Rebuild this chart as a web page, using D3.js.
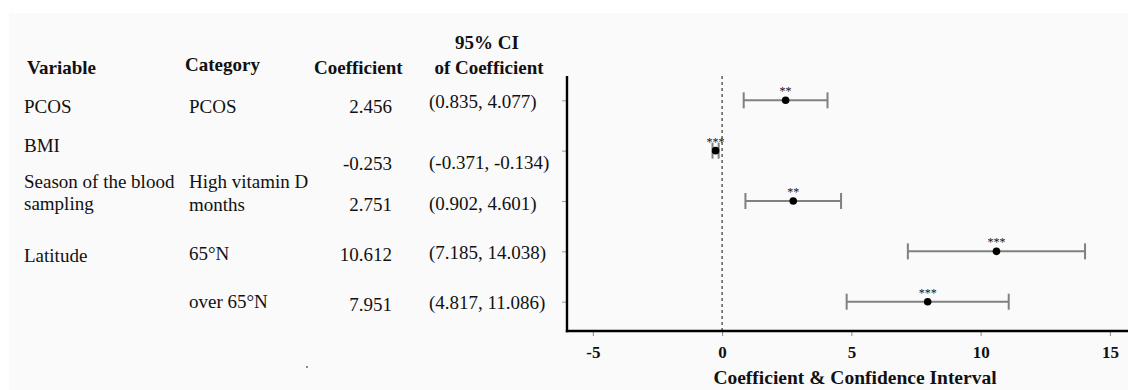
<!DOCTYPE html>
<html>
<head>
<meta charset="utf-8">
<script src="https://cdn.jsdelivr.net/npm/d3@7/dist/d3.min.js"></script>
<style>
  html, body { margin: 0; padding: 0; background: #ffffff; }
  svg { display: block; }
  text { font-family: "Liberation Serif", "Times New Roman", serif; fill: #111; }
</style>
</head>
<body>
<svg id="chart" width="1128" height="390"></svg>
<script>
// ---------------- data ----------------
const variables   = ["PCOS", "BMI", "Season of the blood\nsampling", "Latitude", ""];
const categories  = ["PCOS", "", "High vitamin D\nmonths", "65°N", "over 65°N"];
const coefficient = [2.456, -0.253, 2.751, 10.612, 7.951];
const ciLower     = [0.835, -0.371, 0.902, 7.185, 4.817];
const ciUpper     = [4.077, -0.134, 4.601, 14.038, 11.086];
const significance = ["**", "***", "**", "***", "***"];
const xTickValues = [-5, 0, 5, 10, 15];
const headers = ["Variable", "Category", "Coefficient", "95% CI\nof Coefficient"];
const xAxisTitle = "Coefficient & Confidence Interval";

// ---------------- layout ----------------
const W = 1128, H = 390;
const plot = { left: 567, right: 1128, top: 76, bottom: 331 };
const rowRange = [100.3, 301.7];
// per-row vertical offsets of table text (px, relative to row centre)
const offVar  = [[7], [-5], [-19, 3], [5], []];
const offCat  = [[7], [], [-19, 4], [3], [0]];
const offCoef = [7, 13, 4, 4, 3];
const offCI   = [2, 12, 3, 2, 1];
const colX = { variable: 24, category: 189, coefEnd: 392, ci: 429 };

const loc = d3.formatLocale({ decimal: ".", thousands: ",", grouping: [3], currency: ["", ""], minus: "-" });
const f3 = loc.format(".3f");
const f0 = loc.format("d");

const svg = d3.select("#chart");
svg.append("rect").attr("x", 9).attr("y", 13).attr("width", W - 9).attr("height", H - 13).attr("fill", "#fafafa");

const rows = d3.range(coefficient.length);
const x = d3.scaleLinear().domain([-6, 15.7]).range([plot.left, plot.right]);
const y = d3.scalePoint().domain(rows).range(rowRange);

// ---------------- table headers ----------------
const hdr = svg.append("g").attr("font-weight", "bold").attr("font-size", 19);
hdr.append("text").attr("x", 27).attr("y", 68).attr("dy", "0.32em").text(headers[0]);
hdr.append("text").attr("x", 185).attr("y", 65).attr("dy", "0.32em").text(headers[1]);
hdr.append("text").attr("x", 314).attr("y", 68).attr("dy", "0.32em").text(headers[2]);
const ciLines = headers[3].split("\n");
hdr.append("text").attr("x", 487).attr("y", 43).attr("dy", "0.32em").attr("text-anchor", "middle").text(ciLines[0]);
hdr.append("text").attr("x", 489).attr("y", 68).attr("dy", "0.32em").attr("text-anchor", "middle").text(ciLines[1]);

// ---------------- table body ----------------
const body = svg.append("g").attr("font-size", 19);
rows.forEach(i => {
  const ry = y(i);
  variables[i].split("\n").forEach((ln, k) => {
    if (!ln) return;
    body.append("text").attr("x", colX.variable).attr("y", ry + offVar[i][k]).attr("dy", "0.32em").text(ln);
  });
  categories[i].split("\n").forEach((ln, k) => {
    if (!ln) return;
    body.append("text").attr("x", colX.category).attr("y", ry + offCat[i][k]).attr("dy", "0.32em").text(ln);
  });
  body.append("text").attr("x", colX.coefEnd).attr("y", ry + offCoef[i]).attr("dy", "0.32em")
      .attr("text-anchor", "end").text(f3(coefficient[i]));
  body.append("text").attr("x", colX.ci).attr("y", ry + offCI[i]).attr("dy", "0.32em")
      .text("(" + f3(ciLower[i]) + ", " + f3(ciUpper[i]) + ")");
});

// stray dot in the reference
svg.append("circle").attr("cx", 307).attr("cy", 367).attr("r", 0.9).attr("fill", "#555");

// ---------------- plot ----------------
// zero reference line
svg.append("line")
  .attr("x1", x(0)).attr("x2", x(0)).attr("y1", plot.top).attr("y2", plot.bottom)
  .attr("stroke", "#666").attr("stroke-width", 1.6).attr("stroke-dasharray", "3,3");

// y axis (row ticks)
const yAxis = d3.axisLeft(y).tickSize(5).tickFormat("");
const gy = svg.append("g").attr("transform", `translate(${plot.left},0)`).call(yAxis);
gy.select(".domain").remove();
gy.selectAll(".tick line").attr("stroke", "#999").attr("stroke-width", 1);
svg.append("line").attr("x1", plot.left).attr("x2", plot.left).attr("y1", plot.top).attr("y2", plot.bottom + 1.2)
  .attr("stroke", "#000").attr("stroke-width", 2.4);

// x axis
const xAxis = d3.axisBottom(x).tickValues(xTickValues).tickSize(5).tickPadding(10).tickFormat(f0);
const gx = svg.append("g").attr("transform", `translate(0,${plot.bottom})`).call(xAxis);
gx.select(".domain").remove();
gx.selectAll(".tick line").attr("stroke", "#888").attr("stroke-width", 1);
gx.selectAll(".tick text").attr("font-family", "Liberation Serif, serif").attr("font-size", 17)
  .attr("font-weight", "bold").attr("fill", "#111");
svg.append("line").attr("x1", plot.left - 1.2).attr("x2", plot.right).attr("y1", plot.bottom).attr("y2", plot.bottom)
  .attr("stroke", "#000").attr("stroke-width", 2.4);

svg.append("text").attr("x", 855).attr("y", 384).attr("text-anchor", "middle")
  .attr("font-size", 19.5).attr("font-weight", "bold").text(xAxisTitle);

// error bars
const capH = 8;
const eb = svg.append("g").attr("stroke", "#808080").attr("stroke-width", 2);
eb.selectAll("line.bar").data(rows).join("line").attr("class", "bar")
  .attr("x1", i => x(ciLower[i])).attr("x2", i => x(ciUpper[i]))
  .attr("y1", i => y(i)).attr("y2", i => y(i));
eb.selectAll("line.capL").data(rows).join("line").attr("class", "capL")
  .attr("x1", i => x(ciLower[i])).attr("x2", i => x(ciLower[i]))
  .attr("y1", i => y(i) - capH).attr("y2", i => y(i) + capH);
eb.selectAll("line.capR").data(rows).join("line").attr("class", "capR")
  .attr("x1", i => x(ciUpper[i])).attr("x2", i => x(ciUpper[i]))
  .attr("y1", i => y(i) - capH).attr("y2", i => y(i) + capH);

// points
svg.append("g").selectAll("circle").data(rows).join("circle")
  .attr("cx", i => x(coefficient[i])).attr("cy", i => y(i)).attr("r", 3.8).attr("fill", "#000");

// significance stars
svg.append("g").selectAll("text").data(rows).join("text")
  .attr("x", i => x(coefficient[i])).attr("y", i => y(i) - 5)
  .attr("text-anchor", "middle").attr("font-size", 12).attr("fill", "#333")
  .text(i => significance[i]);
</script>
</body>
</html>
